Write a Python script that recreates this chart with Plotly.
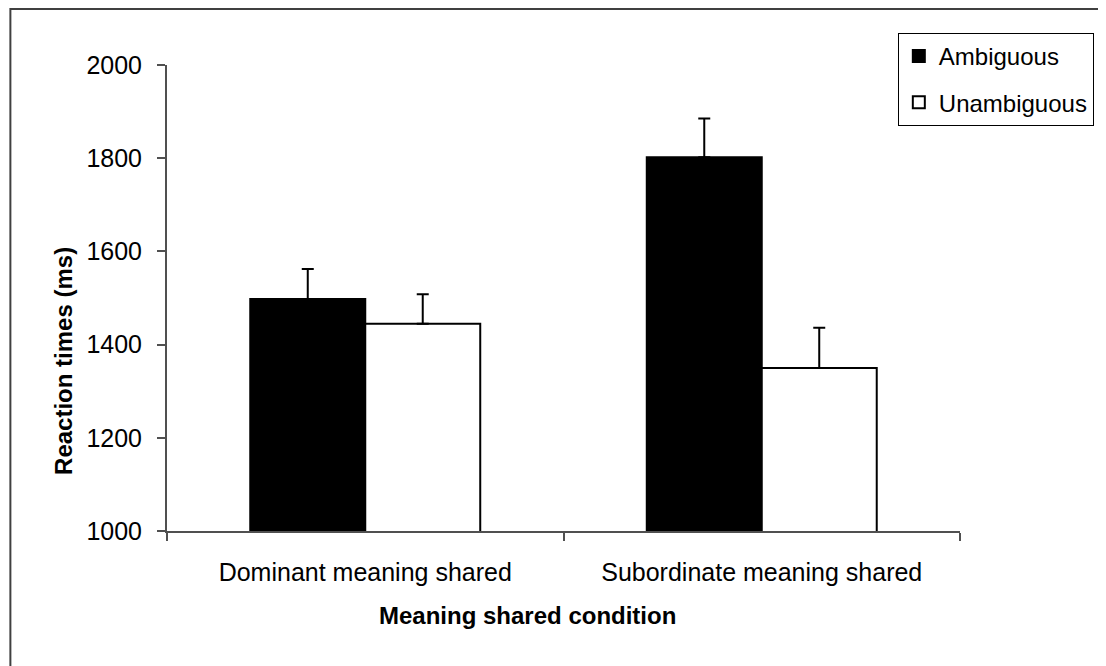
import plotly.graph_objects as go

categories = ["Dominant meaning shared", "Subordinate meaning shared"]
series_names = ["Ambiguous", "Unambiguous"]
ambiguous = [1498, 1802]
ambiguous_err = [64, 83]
unambiguous = [1445, 1350]
unambiguous_err = [63, 86]
y_ticks = [1000, 1200, 1400, 1600, 1800, 2000]
x_title = "Meaning shared condition"
y_title = "Reaction times (ms)"

FONT = "Liberation Sans, Arial, sans-serif"

fig = go.Figure()
fig.add_trace(go.Bar(
    name=series_names[0], x=categories, y=ambiguous, legendgroup="a",
    marker=dict(color="black", line=dict(color="black", width=2)),
    error_y=dict(type="data", array=ambiguous_err, arrayminus=[0, 0], symmetric=False,
                 color="black", thickness=2, width=6),
))
fig.add_trace(go.Bar(
    name=series_names[1], x=categories, y=unambiguous, legendgroup="b",
    marker=dict(color="white", line=dict(color="black", width=2)),
    error_y=dict(type="data", array=unambiguous_err, arrayminus=[0, 0], symmetric=False,
                 color="black", thickness=2, width=6),
))

# figure sits at page offset (8, 8) because of the default body margin
W, H = 1098, 658
L, R, T, B = 159, 139, 57, 135
pw, ph = W - L - R, H - T - B


def px(xf):
    return (xf - L) / pw


def py(yf):
    return (H - B - yf) / ph


AX = "#505050"

fig.update_layout(
    width=W, height=H,
    margin=dict(l=L, r=R, t=T, b=B, pad=0),
    paper_bgcolor="white", plot_bgcolor="white",
    barmode="group", bargap=0.42, bargroupgap=0,
    font=dict(family=FONT, color="black", size=24),
    showlegend=True,
    legend=dict(
        x=px(1094), xanchor="right",
        y=py(25), yanchor="top",
        bgcolor="white", bordercolor="black", borderwidth=1,
        font=dict(family=FONT, size=24, color="black"),
        itemwidth=30, tracegroupgap=12, traceorder="grouped",
    ),
    xaxis=dict(
        range=[-0.5, 1.5], showline=True, linecolor=AX, linewidth=2,
        ticks="outside", tickson="boundaries", ticklen=8, tickcolor=AX, tickwidth=2,
        showgrid=False, zeroline=False, ticklabelstandoff=18,
        tickfont=dict(family=FONT, size=25, color="black"),
    ),
    yaxis=dict(
        range=[1000, 2000], tickvals=y_ticks, showline=True, linecolor=AX, linewidth=2,
        ticks="outside", ticklen=8, tickcolor=AX, tickwidth=2,
        showgrid=False, zeroline=False, ticklabelstandoff=10,
        tickfont=dict(family=FONT, size=25, color="black"),
    ),
    annotations=[
        dict(text="<b>%s</b>" % x_title, xref="paper", yref="paper",
             x=px(675), xanchor="right", y=py(607), yanchor="middle",
             showarrow=False, font=dict(family=FONT, size=24, color="black")),
        dict(text="<b>%s</b>" % y_title, xref="paper", yref="paper",
             x=px(54), xanchor="center", y=py(353), yanchor="middle", textangle=-90,
             showarrow=False, font=dict(family=FONT, size=24, color="black")),
    ],
    shapes=[dict(
        type="rect", xref="paper", yref="paper",
        x0=px(1), x1=px(W + 20),
        y0=py(H + 20), y1=py(1),
        line=dict(color="#404040", width=2), fillcolor="rgba(0,0,0,0)", layer="below",
    )],
)

fig.write_html("out.html")
